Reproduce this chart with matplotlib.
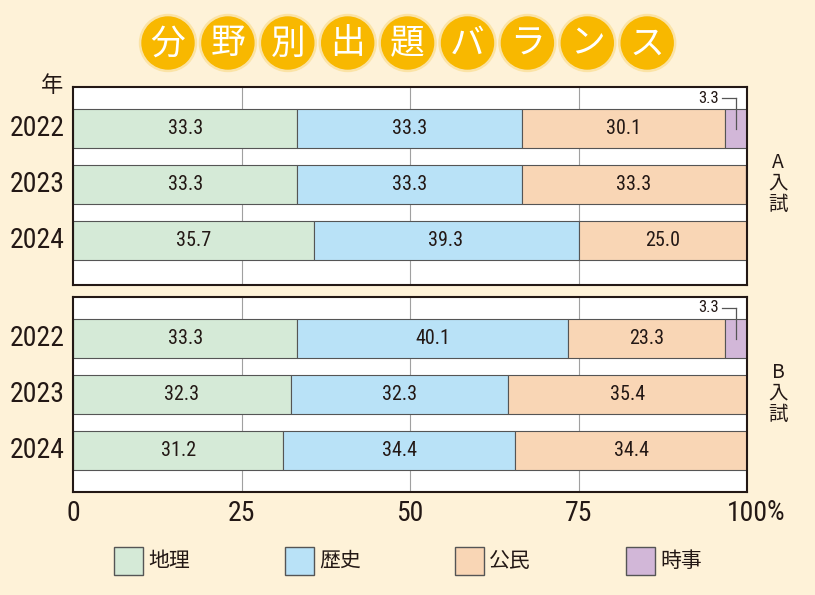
import matplotlib
matplotlib.use("Agg")
import matplotlib.pyplot as plt
from matplotlib.patches import Circle, Rectangle
from matplotlib import font_manager
import numpy as np

plt.rcParams['font.family'] = ['Noto Sans CJK JP', 'DejaVu Sans']

years = ["2022", "2023", "2024"]
categories = ["地理", "歴史", "公民", "時事"]
a_values = {
    "地理": [33.3, 33.3, 35.7],
    "歴史": [33.3, 33.3, 39.3],
    "公民": [30.1, 33.3, 25.0],
    "時事": [3.3, 0.0, 0.0],
}
b_values = {
    "地理": [33.3, 32.3, 31.2],
    "歴史": [40.1, 32.3, 34.4],
    "公民": [23.3, 35.4, 34.4],
    "時事": [3.3, 0.0, 0.0],
}
panel_labels = ["A\n入\n試", "B\n入\n試"]
x_ticks = [0, 25, 50, 75, 100]
x_tick_labels = ["0", "25", "50", "75", "100"]
title_chars = list("分野別出題バランス")

colors = {"地理": "#d5ead7", "歴史": "#b9e2f7", "公民": "#f9d6b5", "時事": "#d2b7d8"}
bg = "#fef2d8"
W, H = 815, 595
fig = plt.figure(figsize=(W / 100, H / 100), dpi=100, facecolor=bg)

names = {f.name for f in font_manager.fontManager.ttflist}
cond = None
for cand in ["Liberation Sans Narrow", "Roboto Condensed", "Open Sans Condensed", "DejaVu Sans Condensed"]:
    if cand in names:
        cond = cand
        break


def numfp(size):
    if cond:
        return font_manager.FontProperties(family=cond, size=size)
    return font_manager.FontProperties(family="DejaVu Sans", stretch="condensed", size=size)


def fx(px):
    return px / W


def fy(py):
    return 1 - py / H


def draw_panel(ax, values, top_offset, panel_h):
    unit = 56.0
    ax.set_facecolor("white")
    ax.set_xlim(0, 100)
    ax.set_ylim((panel_h - top_offset) / unit, -top_offset / unit)
    for xv in [25, 50, 75]:
        ax.axvline(xv, color="#a0a0a0", lw=0.8, zorder=0)
    ypos = np.arange(len(years))
    left = np.zeros(len(years))
    for cat in categories:
        vals = np.array(values[cat])
        ax.barh(ypos, vals, left=left, height=39 / unit, color=colors[cat],
                edgecolor="#555555", linewidth=0.8, zorder=2)
        for i, v in enumerate(vals):
            if v >= 10:
                ax.text(left[i] + v / 2, ypos[i], f"{v:.1f}", ha="center", va="center",
                        fontproperties=numfp(14.5), color="#231815", zorder=3)
        left += vals
    for i, v in enumerate(values["時事"]):
        if v > 0:
            xc = 100 - v / 2
            ytop = ypos[i] - 39 / unit / 2
            ylab = -top_offset / unit + 11 / unit
            ax.plot([xc, xc], [ylab, ytop + 20 / unit], color="#555555", lw=0.9, zorder=4)
            ax.plot([xc - 2.1, xc], [ylab, ylab], color="#555555", lw=0.9, zorder=4)
            ax.text(xc - 2.5, ylab, f"{v:.1f}", ha="right", va="center",
                    fontproperties=numfp(12), color="#231815", zorder=4)
    ax.set_yticks([])
    ax.set_xticks([])
    for s in ax.spines.values():
        s.set_linewidth(1.5)
        s.set_color("#231815")


ax1 = fig.add_axes([fx(73), fy(285), fx(747 - 73), (285 - 87) / H])
draw_panel(ax1, a_values, 41.5, 198)
ax2 = fig.add_axes([fx(73), fy(492), fx(747 - 73), (492 - 297) / H])
draw_panel(ax2, b_values, 41.0, 195)

ax2.set_xticks(x_ticks)
ax2.set_xticklabels(x_tick_labels, color="#231815")
for lbl in ax2.get_xticklabels():
    lbl.set_fontproperties(numfp(20))
ax2.tick_params(axis="x", length=0, pad=6)
fig.text(fx(766), fy(512), "%", ha="left", va="center", fontproperties=numfp(20),
         color="#231815")

for ax, centers in [(ax1, [128.5, 184.5, 240.5]), (ax2, [338, 394, 450.5])]:
    for y, c in zip(years, centers):
        fig.text(fx(65), fy(c), y, ha="right", va="center",
                 fontproperties=numfp(20), color="#231815")
fig.text(fx(52), fy(86), "年", ha="center", va="center", fontsize=16, color="#231815")

fig.text(fx(778), fy(183), panel_labels[0], ha="center", va="center", fontsize=14,
         linespacing=1.0, color="#231815")
fig.text(fx(778), fy(393), panel_labels[1], ha="center", va="center", fontsize=14,
         linespacing=1.0, color="#231815")

tax = fig.add_axes([0, 0, 1, 1], facecolor="none")
tax.set_xlim(0, W)
tax.set_ylim(H, 0)
tax.axis("off")
for i, ch in enumerate(title_chars):
    cx = 168 + i * 59.9
    cy = 43
    tax.add_patch(Circle((cx, cy), 28.5, color="#fbe3a6", zorder=1))
    tax.add_patch(Circle((cx, cy), 26, color="#f8b800", zorder=2))
    tax.text(cx, cy + 1, ch, ha="center", va="center", fontsize=25, color="white",
             zorder=3)

leg_x = [114, 285, 455, 626]
for cat, lx in zip(categories, leg_x):
    tax.add_patch(Rectangle((lx, 547), 29, 28, facecolor=colors[cat], edgecolor="#555555",
                            lw=1.0, zorder=2))
    tax.text(lx + 34, 561, cat, ha="left", va="center", fontsize=15, color="#231815")

fig.savefig("out.png", dpi=100, facecolor=bg)
